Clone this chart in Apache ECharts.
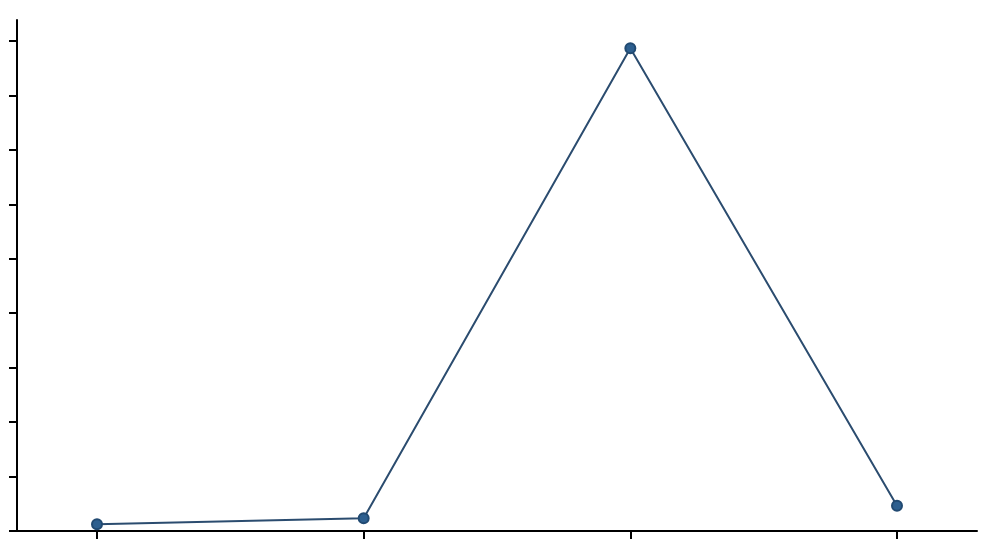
<!DOCTYPE html>
<html><head><meta charset="utf-8">
<script src="https://cdn.jsdelivr.net/npm/echarts@6/dist/echarts.min.js"></script>
<style>html,body{margin:0;padding:0;background:#fff}#c{width:988px;height:554px}</style>
</head><body><div id="c"></div>
<script>
const xPositions = [0, 1, 2, 3];
const values = [12.3, 23.3, 886.7, 46.5];
const yTicks = [0, 100, 200, 300, 400, 500, 600, 700, 800, 900];

const chart = echarts.init(document.getElementById('c'));
chart.setOption({
  animation: false,
  grid: { left: 17, right: 11, top: 20, bottom: 23, containLabel: false },
  xAxis: {
    type: 'value', min: -0.3, max: 3.3,
    splitLine: { show: false },
    axisLine: { show: true, lineStyle: { color: '#000', width: 2 } },
    axisTick: { show: true, length: 8, lineStyle: { color: '#000', width: 2 }, customValues: xPositions },
    axisLabel: { show: false, customValues: xPositions }
  },
  yAxis: {
    type: 'value', min: 0, max: 938.6,
    splitLine: { show: false },
    axisLine: { show: true, onZero: false, lineStyle: { color: '#000', width: 2 } },
    axisTick: { show: true, length: 8, lineStyle: { color: '#000', width: 2 }, customValues: yTicks },
    axisLabel: { show: false, customValues: yTicks }
  },
  series: [{
    type: 'line',
    data: xPositions.map((x, i) => [x, values[i]]),
    symbol: 'circle', symbolSize: 10,
    lineStyle: { color: '#2b4c6f', width: 2 },
    itemStyle: { color: '#2d5f8f', borderColor: '#214a72', borderWidth: 2 }
  }]
});
</script></body></html>
